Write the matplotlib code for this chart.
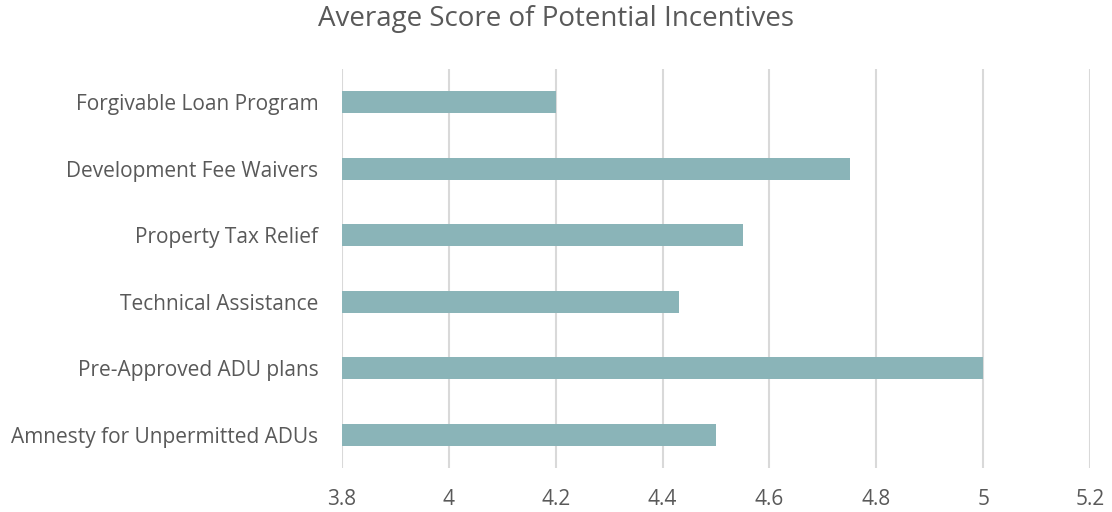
import matplotlib.pyplot as plt

# Data (top to bottom)
categories = [
    "Forgivable Loan Program",
    "Development Fee Waivers",
    "Property Tax Relief",
    "Technical Assistance",
    "Pre-Approved ADU plans",
    "Amnesty for Unpermitted ADUs",
]
scores = [4.2, 4.75, 4.55, 4.43, 5.0, 4.5]
x_ticks = [3.8, 4.0, 4.2, 4.4, 4.6, 4.8, 5.0, 5.2]
x_tick_labels = ["3.8", "4", "4.2", "4.4", "4.6", "4.8", "5", "5.2"]

TEXT = "#595959"
BAR = "#8AB4B8"
GRID = "#D9D9D9"

plt.rcParams['font.family'] = ['Open Sans', 'DejaVu Sans']

fig = plt.figure(figsize=(11.12, 5.12), dpi=100)
ax = fig.add_axes([342 / 1112, 1 - 468 / 512, 748 / 1112, 399 / 512])

ypos = list(range(len(categories)))[::-1]
base = x_ticks[0]
ax.barh(ypos, [s - base for s in scores], left=base, height=0.33, color=BAR, zorder=3)

ax.set_xlim(x_ticks[0], x_ticks[-1])
ax.set_ylim(-0.5, len(categories) - 0.5)
ax.set_xticks(x_ticks)
ax.set_xticklabels(x_tick_labels)
ax.set_yticks(ypos)
ax.set_yticklabels(categories)

ax.grid(axis="x", color=GRID, linewidth=1.5, zorder=0)
ax.tick_params(axis="both", length=0, labelsize=15, colors=TEXT)
ax.tick_params(axis="x", pad=15)
ax.tick_params(axis="y", pad=17)
for s in ax.spines.values():
    s.set_visible(False)

fig.text(0.5, 1 - 19 / 512, "Average Score of Potential Incentives",
         ha="center", va="center", fontsize=20, color=TEXT)

fig.savefig("out.png", dpi=100)
